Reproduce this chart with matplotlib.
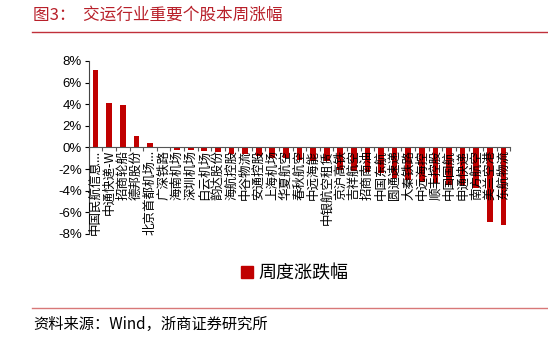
import numpy as np
import matplotlib
matplotlib.use("Agg")
import matplotlib.pyplot as plt
from matplotlib.lines import Line2D
from matplotlib.ticker import FuncFormatter

plt.rcParams['font.family'] = ['Noto Sans CJK SC', 'DejaVu Sans']

#------------------------------------------------------------------
# data
names = ['中国民航信息...', '中通快递-W', '招商轮船', '德邦股份', '北京首都机场...',
         '广深铁路', '海南机场', '深圳机场', '白云机场', '韵达股份',
         '海航控股', '中谷物流', '安通控股', '上海机场', '华夏航空',
         '春秋航空', '中远海能', '中银航空租赁', '京沪高铁', '吉祥航空',
         '招商南油', '中国东航', '圆通速递', '大秦铁路', '中远海控',
         '顺丰控股', '中国国航', '申通快递', '南方航空', '美兰空港',
         '东航物流']
weekly_change = [7.2, 4.1, 3.9, 1.1, 0.4,
                 -0.05, -0.2, -0.25, -0.3, -0.4,
                 -0.6, -0.65, -0.8, -1.0, -1.0,
                 -1.2, -1.25, -1.3, -2.05, -2.15,
                 -2.3, -2.4, -2.85, -3.0, -3.2,
                 -3.3, -3.5, -3.5, -3.8, -6.9,
                 -7.2]
yticks = [-8, -6, -4, -2, 0, 2, 4, 6, 8]
legend_label = '周度涨跌幅'
title = '图3：  交运行业重要个股本周涨幅'
source = '资料来源：Wind，浙商证券研究所'

bar_color = '#c00000'
title_color = '#b8202a'

#------------------------------------------------------------------
fig = plt.figure(figsize=(5.48, 3.37), dpi=100)
ax = fig.add_axes([0.162, 0.306, 0.769, 0.513])

n = len(names)
x = np.arange(n)
ax.bar(x, weekly_change, width=0.42, color=bar_color, zorder=2)

ax.set_xlim(-0.5, n - 0.5)
ax.set_ylim(-8, 8)
ax.set_yticks(yticks)
ax.yaxis.set_major_formatter(FuncFormatter(lambda v, p: '%d%%' % v))
for lab in ax.get_yticklabels():
    lab.set_family(['Liberation Sans', 'DejaVu Sans'])
    lab.set_fontsize(9.5)
ax.tick_params(axis='y', direction='out', length=3, width=0.8, pad=2, colors='black')

for side in ['top', 'right']:
    ax.spines[side].set_visible(False)
ax.spines['left'].set_color('#444444')
ax.spines['bottom'].set_position(('data', 0))
ax.spines['bottom'].set_color('#555555')
ax.spines['bottom'].set_zorder(3)

# ticks on category boundaries, labels drawn separately
ax.set_xticks(np.arange(-0.5, n, 1.0))
ax.set_xticklabels([])
ax.tick_params(axis='x', direction='out', length=3, width=0.8, colors='#555555')

for i, nm in enumerate(names):
    ax.text(i, -0.22, nm, rotation=90, ha='center', va='top', fontsize=9,
            color='black', zorder=4)

# legend
handle = Line2D([], [], marker='s', linestyle='none', markersize=8,
                markerfacecolor=bar_color, markeredgecolor=bar_color)
fig.legend([handle], [legend_label], loc='center', bbox_to_anchor=(0.535, 0.19),
           frameon=False, prop={'size': 13}, handletextpad=0.1, handlelength=1.0)

# title, rules and source
fig.text(0.06, 0.955, title, fontsize=12, color=title_color, va='center', ha='left')
fig.add_artist(Line2D([0.058, 1.0], [0.905, 0.905], color='#c0303a', lw=1.0))
fig.add_artist(Line2D([0.058, 1.0], [0.086, 0.086], color='#d87878', lw=1.0))
fig.text(0.06, 0.038, source, fontsize=11, color='black', va='center', ha='left')

plt.savefig('out.png', dpi=100)
plt.close()
